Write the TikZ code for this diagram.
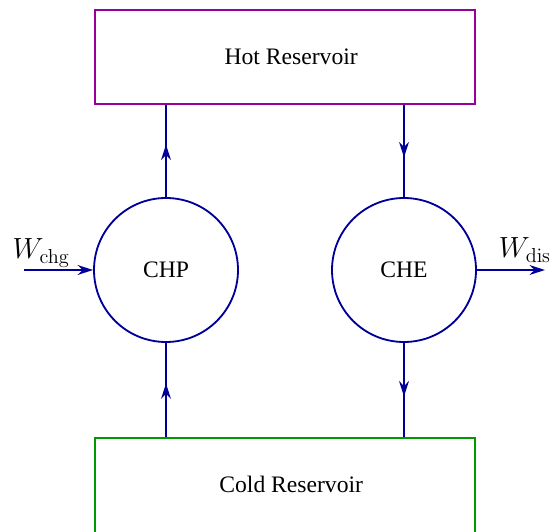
\documentclass[tikz,border=0pt]{standalone}
\usepackage[no-math]{fontspec}
\setmainfont{Liberation Serif}
\usepackage{xcolor}
\usetikzlibrary{arrows.meta,positioning,decorations.markings}

\definecolor{hotcol}{RGB}{153,0,153}
\definecolor{coldcol}{RGB}{0,153,0}
\definecolor{flowcol}{RGB}{0,0,153}

\tikzset{
  resbox/.style={draw,line width=1.3pt,minimum width=9.5cm,minimum height=2.35cm},
  engine/.style={circle,draw=flowcol,line width=1.3pt,minimum size=3.6cm,inner sep=0pt},
  worklabel/.style={font=\fontsize{20.74}{24}\selectfont},
  flow/.style={draw=flowcol,line width=1.3pt,postaction={decorate},
    decoration={markings,mark=at position #1 with {\arrow[flowcol]{Stealth[length=11pt,width=7pt]}}}},
  flow/.default=0.57
}

\begin{document}
\begin{tikzpicture}[font=\fontsize{16.8}{20}\selectfont,>=Stealth]
\useasboundingbox (0,0) rectangle (13.775,13.275);
% reservoirs
\node[resbox,draw=hotcol] (hot) at (7.125,11.85) {};
\node (hottxt) at (7.28,11.85) {Hot Reservoir};
\node[resbox,draw=coldcol,minimum height=2.6cm,anchor=north] (cold) at (7.125,2.35) {};
\node (coldtxt) at (7.28,1.175) {Cold Reservoir};
% engines
\node[engine] (chp) at (4.15,6.525) {CHP};
\node[engine] (che) at (10.1,6.525) {CHE};
% heat flows
\draw[flow] (cold.north -| chp) -- (chp.south);
\draw[flow] (chp.north) -- (hot.south -| chp);
\draw[flow] (hot.south -| che) -- (che.north);
\draw[flow] (che.south) -- (cold.north -| che);
% work in and out
\coordinate (win) at (0.6,6.525);
\coordinate (wout) at (13.625,6.525);
\draw[draw=flowcol,line width=1.3pt,-{Stealth[length=11pt,width=7pt]}] (win) -- (chp.west);
\draw[draw=flowcol,line width=1.3pt,-{Stealth[length=11pt,width=7pt]}] (che.east) -- (wout);
\node[worklabel] (wchg) at (1.03,6.95) {$W_{\mathrm{chg}}$};
\node[worklabel] (wdis) at (13.12,7.02) {$W_{\mathrm{dis}}$};
\end{tikzpicture}
\end{document}
